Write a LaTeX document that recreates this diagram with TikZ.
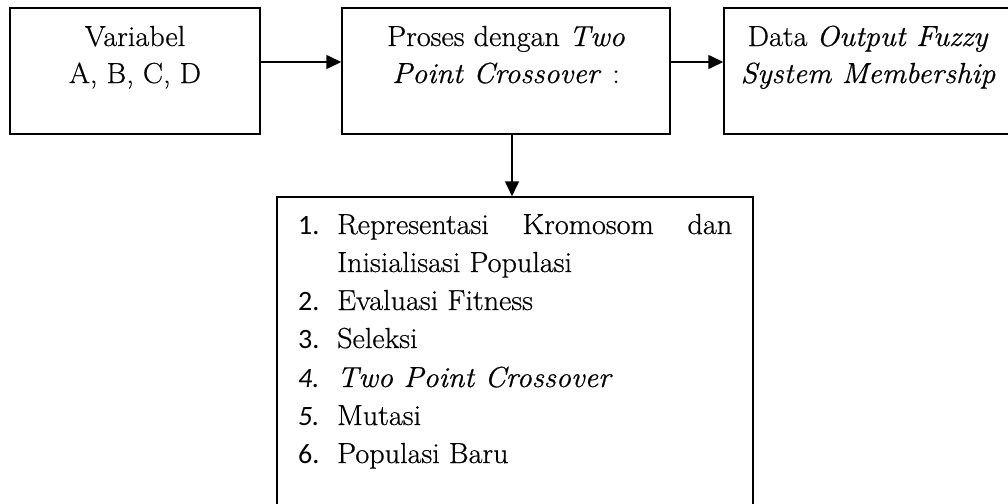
\documentclass[tikz,border=0pt]{standalone}
\usepackage{fontspec}
\setmainfont{Latin Modern Roman}[FakeBold=0.6, FakeStretch=1.04]
\newfontfamily\numfont{Carlito}
\usetikzlibrary{arrows.meta}
\begin{document}
\begin{tikzpicture}[x=1pt,y=-1pt,
  box/.style={draw, line width=1.5pt, rectangle, inner sep=0pt},
  arr/.style={line width=1.6pt, -{Triangle[length=15pt,width=14pt]}},
  txt/.style={inner sep=0pt, anchor=base, font=\fontsize{29}{38}\selectfont},
  ltxt/.style={inner sep=0pt, anchor=base west, font=\fontsize{29}{38}\selectfont},
  num/.style={inner sep=0pt, anchor=base west, font=\fontsize{28}{38}\selectfont\numfont}]
\useasboundingbox (0,0) rectangle (1008,503);
% boxes
\node[box, minimum width=250pt, minimum height=126pt] (b1) at (135,71) {};
\node[box, minimum width=328pt, minimum height=126pt] (b2) at (506,71) {};
\node[box, minimum width=288pt, minimum height=126pt] (b3) at (868,71) {};
\node[box, minimum width=476pt, minimum height=333pt] (b4) at (515,363.5) {};
% box texts
\node[txt] (t1a) at (135,46) {Variabel};
\node[txt] (t1b) at (135,83) {A, B, C, D};
\node[txt] (t2a) at (506,46) {Proses dengan \textit{Two}};
\node[txt] (t2b) at (506,83) {\textit{Point Crossover}\hspace{11pt}:};
\node[txt] (t3a) at (868,46) {Data \textit{Output Fuzzy}};
\node[txt] (t3b) at (868,83) {\textit{System Membership}};
% list
\node[num] (n1) at (298,234) {1.};
\node[ltxt] (l1a) at (337,234) {\makebox[395pt][s]{Representasi Kromosom dan}};
\node[ltxt] (l1b) at (337,272) {Inisialisasi Populasi};
\node[num] (n2) at (298,310) {2.};
\node[ltxt] (l2) at (337,310) {Evaluasi Fitness};
\node[num] (n3) at (298,348) {3.};
\node[ltxt] (l3) at (337,348) {Seleksi};
\node[num] (n4) at (298,387) {\itshape 4.};
\node[ltxt] (l4) at (337,387) {\textit{Two Point Crossover}};
\node[num] (n5) at (298,425) {\itshape 5.};
\node[ltxt] (l5) at (337,425) {Mutasi};
\node[num] (n6) at (298,463) {6.};
\node[ltxt] (l6) at (337,463) {Populasi Baru};
% connectors
\draw[arr] ([yshift=9pt]b1.east) -- ([yshift=9pt]b2.west);
\draw[arr] ([yshift=9pt]b2.east) -- ([yshift=9pt]b3.west);
\draw[arr] ([xshift=6pt]b2.south) -- ([xshift=6pt]b2.south |- b4.north);
\end{tikzpicture}
\end{document}
